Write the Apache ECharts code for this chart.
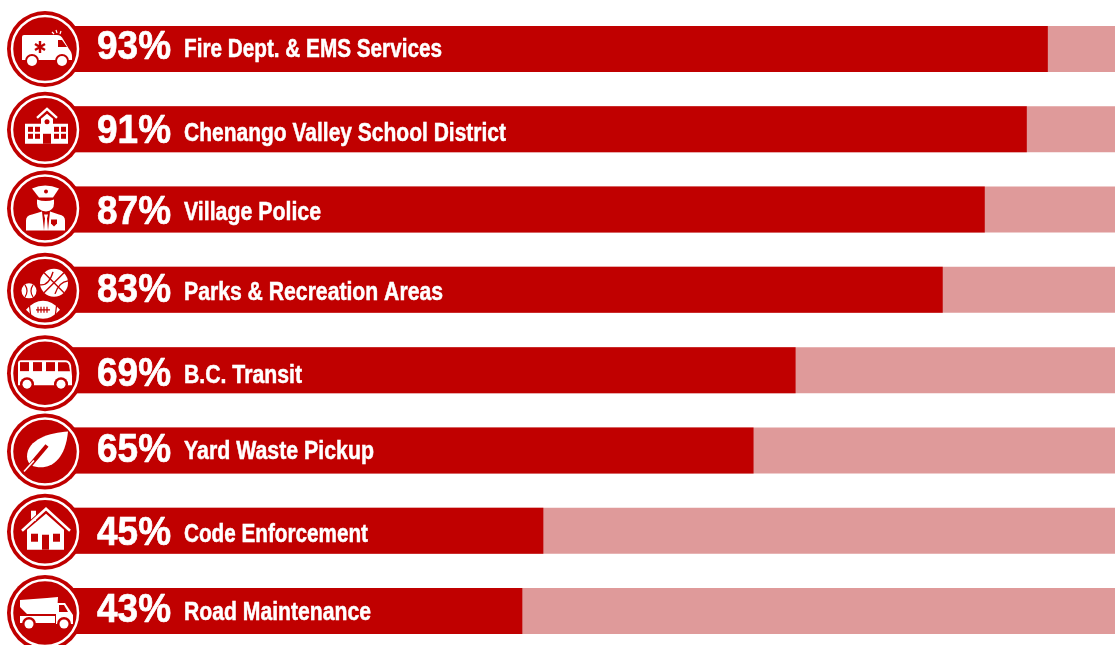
<!DOCTYPE html>
<html>
<head>
<meta charset="utf-8">
<title>Service satisfaction</title>
<style>
  html, body { margin: 0; padding: 0; background: #fff; overflow: hidden; }
  /* a little larger than the window: the last badge and the tracks are cut off in the source */
  #main { width: 1122px; height: 652px; }
</style>
<script src="https://cdn.jsdelivr.net/npm/echarts@6/dist/echarts.min.js"></script>
</head>
<body>
<div id="main"></div>
<script>
// data
var categories = ['Fire Dept. & EMS Services', 'Chenango Valley School District', 'Village Police',
  'Parks & Recreation Areas', 'B.C. Transit', 'Yard Waste Pickup', 'Code Enforcement', 'Road Maintenance'];
var percents = [93, 91, 87, 83, 69, 65, 45, 43];

// the source picture is hand placed, so rows drift a little from the bars
var iconNudge = [0, 0.5, -1, 1, 3, 1, 1, 2];
var pctNudge = [-1.5, 2, 3, 1, 4.5, 0, 3, 0];
var nameNudge = [1, 5, 3.5, 3.5, 5.5, 1.5, 4.5, 2.5];
var nameEnds = [442, 506, 321, 443, 302, 374, 368, 371];

var RED = '#c00000', TRACK = '#df9a9a', WHITE = '#ffffff';
var FONT = '"Liberation Sans Narrow", "Liberation Sans", sans-serif';

function circ(cx, cy, r) {
  return 'M' + (cx - r) + ',' + cy + ' A' + r + ',' + r + ' 0 1 0 ' + (cx + r) + ',' + cy +
    ' A' + r + ',' + r + ' 0 1 0 ' + (cx - r) + ',' + cy + ' Z';
}
function box(x0, y0, x1, y1) {
  return 'M' + x0 + ',' + y0 + ' L' + x1 + ',' + y0 + ' L' + x1 + ',' + y1 + ' L' + x0 + ',' + y1 + ' Z';
}
function fill(color, d) { return { fill: color, d: d }; }
function line(color, width, d) { return { stroke: color, width: width, d: d }; }

// pictograms, drawn around the badge centre
var icons = [
  // ambulance
  [
    fill(WHITE, 'M-23,-12 Q-23,-14 -21,-14 L12,-14 Q16,-14 18,-10 L24,0 Q27,3 27,8 L27,11 L-23,11 Z'),
    fill(RED, 'M13,-9 L17,-9 L22,-2 L13,-2 Z'),
    line(RED, 2.4, 'M-5,-8 L-5,4 M-10,-5 L0,1 M0,-5 L-10,1'),
    fill(RED, circ(-13, 12, 7)), fill(WHITE, circ(-13, 12, 5)),
    fill(RED, circ(17, 12, 7)), fill(WHITE, circ(17, 12, 5)),
    line(WHITE, 1.2, 'M7,-17 L9,-15 M11,-19 L12,-16 M16,-18 L15,-15')
  ],
  // school
  [
    line(WHITE, 2.4, 'M-8,-12 L2,-21 L12,-12'),
    fill(WHITE, 'M-4,-5 L-4,-11 L2,-16 L8,-11 L8,-5 Z'),
    fill(WHITE, box(-20, -6, 23, 14)),
    fill(RED, circ(2, -8, 2.5)),
    fill(RED, box(-2, 4, 6, 14)),
    fill(RED, box(-17, -3, -12, 2)), fill(RED, box(-10, -3, -5, 2)),
    fill(RED, box(-17, 4, -12, 9)), fill(RED, box(-10, 4, -5, 9)),
    fill(RED, box(9, -3, 14, 2)), fill(RED, box(16, -3, 21, 2)),
    fill(RED, box(9, 4, 14, 9)), fill(RED, box(16, 4, 21, 9))
  ],
  // police officer
  [
    fill(WHITE, 'M-13,-20 Q0,-26 14,-20 L8,-11 L-6,-11 Z'),
    fill(RED, circ(1, -17, 2)),
    fill(WHITE, 'M-8,-9 Q1,-6 9,-9 L9,-5 Q9,2 1,3 Q-8,2 -8,-5 Z'),
    fill(WHITE, 'M-19,22 L-19,12 Q-19,7 -13,6 L-3,3 L-1,22 Z'),
    fill(WHITE, 'M20,22 L20,12 Q20,7 14,6 L5,3 L3,22 Z'),
    fill(WHITE, 'M-1,6 L3,6 L2,10 L3,22 L-1,22 L0,10 Z'),
    fill(RED, 'M6,11 L12,11 L12,15 L9,18 L6,15 Z')
  ],
  // balls
  [
    fill(WHITE, circ(9, -8, 14)),
    line(RED, 1.4, 'M-1,-18 L19,2 M19,-18 L-1,2 M-5,-6 Q4,-5 8,-19 M10,3 Q14,-9 23,-10'),
    fill(WHITE, circ(-16, 0, 7.5)),
    line(RED, 1.2, 'M-20,-6 Q-16,0 -20,6 M-12,-6 Q-16,0 -12,6'),
    fill(WHITE, 'M-19,19 Q-11,10 -2,10 Q7,10 15,19 Q7,28 -2,28 Q-11,28 -19,19 Z'),
    line(RED, 1.2, 'M-16,11 L-14,27 M12,11 L10,27 M-9,19 L5,19 M-7,16 L-7,22 M-4,16 L-4,22 M-1,16 L-1,22 M2,16 L2,22')
  ],
  // bus
  [
    fill(WHITE, 'M-24,-13 L20,-13 Q25,-13 26,-8 L27,3 L27,12 L-27,12 L-27,-10 Q-27,-13 -24,-13 Z'),
    fill(RED, box(-25, -11, -16, -2)), fill(RED, box(-12, -11, -3, -2)),
    fill(RED, box(1, -11, 10, -2)), fill(RED, 'M13,-11 L21,-11 Q23,-11 24,-8 L25,-2 L13,-2 Z'),
    fill(RED, circ(-18, 11, 7)), fill(WHITE, circ(-18, 11, 4.5)),
    fill(RED, circ(16, 11, 7)), fill(WHITE, circ(16, 11, 4.5))
  ],
  // leaf
  [
    fill(WHITE, 'M23,-20 C5,-19 -18,-12 -18,5 C-18,9 -16,12 -14,14 C2,20 20,12 23,-20 Z'),
    line(RED, 4, 'M-20,20 L2,-6'),
    line(WHITE, 1.6, 'M-21,20 L-11,9')
  ],
  // house
  [
    fill(WHITE, box(-14, -21, -9, -11)),
    fill(WHITE, 'M-18,-2 L1,-18 L19,-2 L19,18 L-18,18 Z'),
    line(RED, 1.6, 'M-23,-3 L1,-25 L25,-3'),
    line(WHITE, 2.6, 'M-23,-1 L1,-23 L25,-1'),
    fill(RED, box(-14, 2, -7, 10)), fill(RED, box(8, 2, 15, 10)),
    fill(RED, box(-3, 3, 4, 18))
  ],
  // dump truck
  [
    fill(WHITE, 'M-25,-13 L2,-15 L13,-16 L12,1 L-18,1 L-25,-6 Z'),
    fill(WHITE, box(-25, 3, 10, 10)),
    fill(WHITE, 'M11,-10 L20,-10 L28,2 L28,11 L11,11 Z'),
    fill(RED, 'M14,-8 L19,-8 L23,-1 L14,-1 Z'),
    fill(RED, circ(-16, 11, 7)), fill(WHITE, circ(-16, 11, 4.5)),
    fill(RED, circ(19, 11, 7)), fill(WHITE, circ(19, 11, 4.5))
  ]
];

// squeeze condensed text so it spans the same width as the reference
var measureCtx = document.createElement('canvas').getContext('2d');
function widthOf(text, font) {
  measureCtx.font = font;
  return measureCtx.measureText(text).width;
}

var myChart = echarts.init(document.getElementById('main'));

myChart.setOption({
  animation: false,
  backgroundColor: '#ffffff',
  grid: { left: 70.4, top: 8.85, right: 0.6, bottom: 0.85 },
  xAxis: { type: 'value', min: 0, max: 100, show: false },
  yAxis: { type: 'category', data: categories, inverse: true, show: false },
  series: [
    {
      type: 'bar',
      data: percents,
      barWidth: 46,
      itemStyle: { color: RED },
      showBackground: true,
      backgroundStyle: { color: TRACK }
    },
    {
      type: 'custom',
      data: categories.map(function (c, i) { return [percents[i], c]; }),
      encode: { x: 0, y: 1 },
      z: 5,
      renderItem: function (params, api) {
        var i = params.dataIndex;
        var pos = api.coord([0, api.value(1)]);
        var cx = pos[0] - 25.4;
        var cy = pos[1] + iconNudge[i];
        var children = [
          { type: 'circle', shape: { cx: cx, cy: cy, r: 38 }, style: { fill: RED } },
          { type: 'circle', shape: { cx: cx, cy: cy, r: 33 }, style: { fill: 'none', stroke: WHITE, lineWidth: 2.5 } }
        ];
        icons[i].forEach(function (p) {
          children.push({
            type: 'path',
            x: cx,
            y: cy,
            shape: { pathData: p.d },
            style: p.stroke
              ? { fill: 'none', stroke: p.stroke, lineWidth: p.width }
              : { fill: p.fill }
          });
        });
        var pctFont = 'bold 41px ' + FONT;
        var pctText = percents[i] + '%';
        children.push({
          type: 'text',
          x: 97,
          y: pos[1] + pctNudge[i],
          scaleX: 74 / widthOf(pctText, pctFont),
          style: {
            text: pctText, fill: WHITE, font: pctFont, stroke: WHITE, lineWidth: 0.7,
            align: 'left', verticalAlign: 'middle'
          }
        });
        var nameFont = 'bold 25px ' + FONT;
        children.push({
          type: 'text',
          x: 184,
          y: pos[1] + nameNudge[i],
          scaleX: (nameEnds[i] - 184) / widthOf(categories[i], nameFont),
          style: {
            text: categories[i], fill: WHITE, font: nameFont, stroke: WHITE, lineWidth: 0.5,
            align: 'left', verticalAlign: 'middle'
          }
        });
        return { type: 'group', children: children };
      }
    }
  ]
});
</script>
</body>
</html>
